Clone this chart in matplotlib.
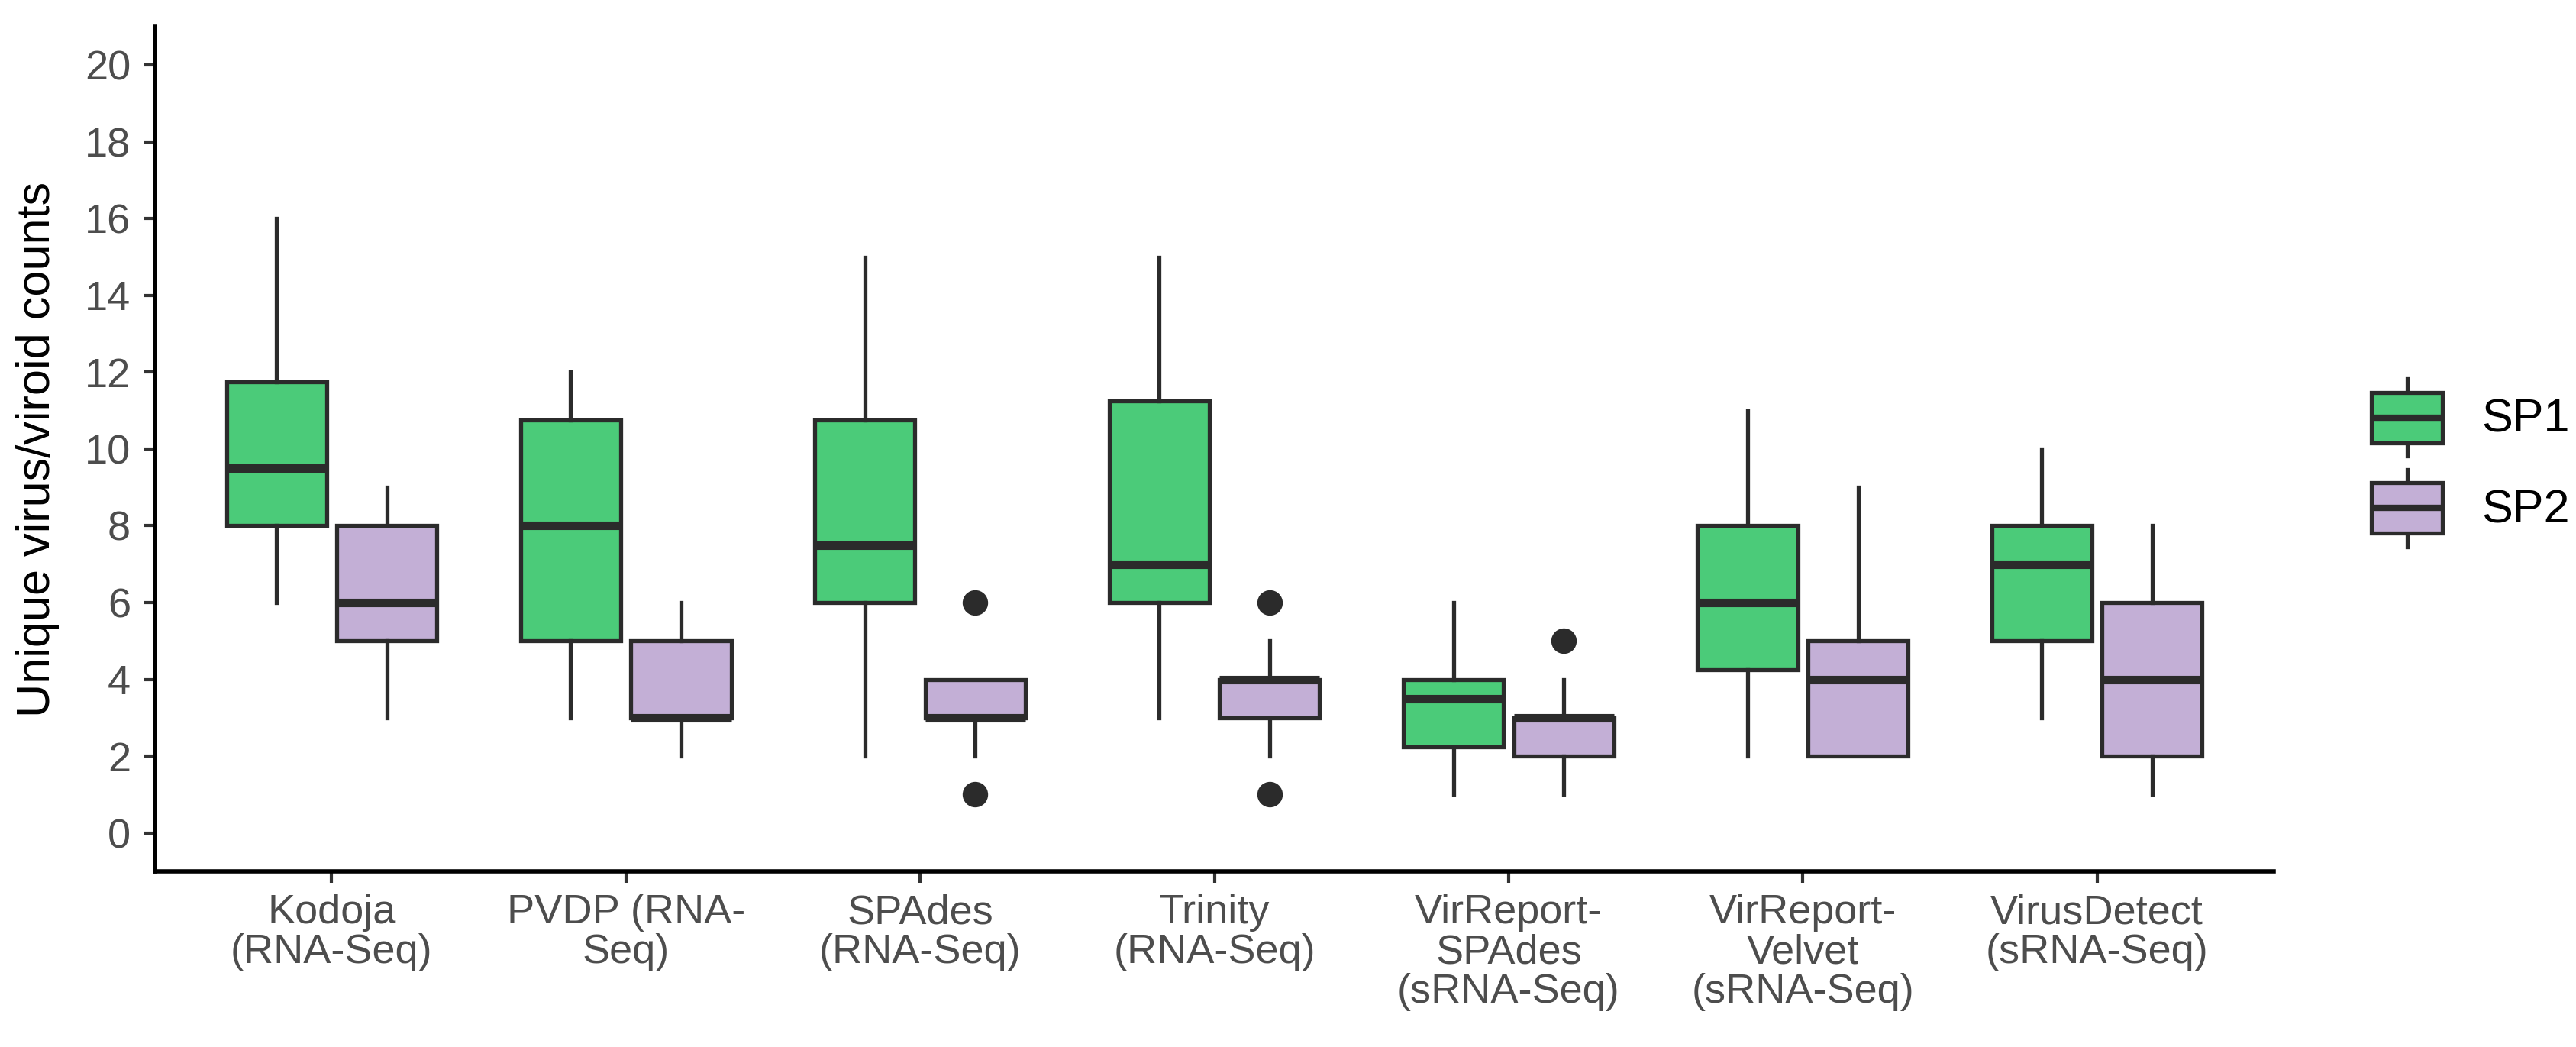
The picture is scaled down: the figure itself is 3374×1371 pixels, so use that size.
import matplotlib
matplotlib.use("Agg")
import matplotlib.pyplot as plt
from matplotlib.legend_handler import HandlerBase
from matplotlib.patches import Rectangle, Patch
from matplotlib.lines import Line2D

plt.rcParams['font.family'] = ['Liberation Sans', 'DejaVu Sans']

# herramientas (eje x)
tools = ["Kodoja\n(RNA-Seq)", "PVDP (RNA-\nSeq)", "SPAdes\n(RNA-Seq)",
         "Trinity\n(RNA-Seq)", "VirReport-\nSPAdes\n(sRNA-Seq)",
         "VirReport-\nVelvet\n(sRNA-Seq)", "VirusDetect\n(sRNA-Seq)"]

# SP1
sp1_whislo = [6, 3, 2, 3, 1, 2, 3]
sp1_q1 = [8, 5, 6, 6, 2.25, 4.25, 5]
sp1_med = [9.5, 8, 7.5, 7, 3.5, 6, 7]
sp1_q3 = [11.75, 10.75, 10.75, 11.25, 4, 8, 8]
sp1_whishi = [16, 12, 15, 15, 6, 11, 10]
sp1_fliers = [[], [], [], [], [], [], []]

# SP2
sp2_whislo = [3, 2, 2, 2, 1, 2, 1]
sp2_q1 = [5, 3, 3, 3, 2, 2, 2]
sp2_med = [6, 3, 3, 4, 3, 4, 4]
sp2_q3 = [8, 5, 4, 4, 3, 5, 6]
sp2_whishi = [9, 6, 4, 5, 4, 9, 8]
sp2_fliers = [[], [], [1, 6], [1, 6], [5], [], []]

green = "#4BCB79"
purple = "#C3AFD6"
ec = "#2B2B2B"
lw = 1.9


def stats(lo, q1, med, q3, hi, fl):
    return [dict(whislo=a, q1=b, med=c, q3=d, whishi=e, fliers=f)
            for a, b, c, d, e, f in zip(lo, q1, med, q3, hi, fl)]


fig = plt.figure(figsize=(3374 / 200, 1371 / 200), dpi=200)
ax = fig.add_axes([0.0602, 0.1678, 0.8224, 0.8067])

pos = list(range(1, len(tools) + 1))
dx = 0.1875
for st, off, col in [(stats(sp1_whislo, sp1_q1, sp1_med, sp1_q3, sp1_whishi, sp1_fliers), -dx, green),
                     (stats(sp2_whislo, sp2_q1, sp2_med, sp2_q3, sp2_whishi, sp2_fliers), dx, purple)]:
    ax.bxp(st, positions=[p + off for p in pos], widths=0.34, showcaps=False,
           patch_artist=True,
           boxprops=dict(facecolor=col, edgecolor=ec, linewidth=lw),
           whiskerprops=dict(color=ec, linewidth=lw),
           medianprops=dict(color=ec, linewidth=4, solid_capstyle="butt"),
           flierprops=dict(marker="o", markerfacecolor=ec, markeredgecolor=ec,
                           markersize=11))

ax.set_xlim(0.4, len(tools) + 0.6)
ax.set_ylim(-1, 21)
ax.set_xticks(pos)
ax.set_xticklabels(tools, fontsize=19.5, color="#4D4D4D", linespacing=1.05)
ax.set_yticks(range(0, 21, 2))
ax.tick_params(axis="y", labelsize=19.5, labelcolor="#4D4D4D", color="#333333",
               length=5.5, width=1.5, pad=6)
ax.tick_params(axis="x", color="#333333", length=5.5, width=1.5, pad=5)
for s in ["top", "right"]:
    ax.spines[s].set_visible(False)
for s in ["left", "bottom"]:
    ax.spines[s].set_linewidth(2.0)
    ax.spines[s].set_color("black")
ax.set_ylabel("Unique virus/viroid counts", fontsize=22)
ax.yaxis.set_label_coords(-0.045, 0.5)


class BoxKey(HandlerBase):
    def create_artists(self, legend, orig_handle, xdescent, ydescent,
                       width, height, fontsize, trans):
        x0, y0 = -xdescent, -ydescent
        xc = x0 + width / 2
        lo, hi = y0 + 0.17 * height, y0 + 0.83 * height
        box = Rectangle((x0, lo), width, hi - lo,
                        facecolor=orig_handle.get_facecolor(),
                        edgecolor=ec, lw=lw, transform=trans)
        w1 = Line2D([xc, xc], [y0, lo], color=ec, lw=lw, transform=trans)
        w2 = Line2D([xc, xc], [hi, y0 + height], color=ec, lw=lw, transform=trans)
        med = Line2D([x0, x0 + width], [(lo + hi) / 2] * 2, color=ec, lw=3,
                     solid_capstyle="butt", transform=trans)
        return [w1, w2, box, med]


handles = [Patch(facecolor=green), Patch(facecolor=purple)]
fig.legend(handles, ["SP1", "SP2"], handler_map={Patch: BoxKey()},
           loc="center left", bbox_to_anchor=(0.9206, 0.558), frameon=False,
           fontsize=22, handlelength=1.52, handleheight=2.15, labelspacing=0.3,
           handletextpad=0.84, borderpad=0, borderaxespad=0)

fig.savefig("out.png", dpi=200)
